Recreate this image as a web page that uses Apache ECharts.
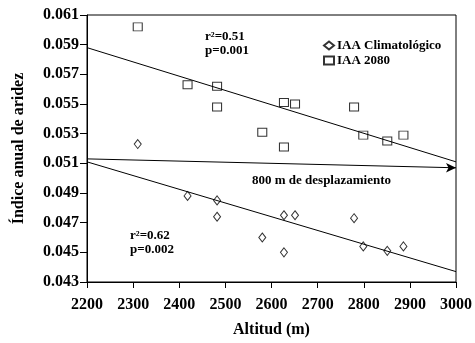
<!DOCTYPE html>
<html><head><meta charset="utf-8">
<script src="https://cdn.jsdelivr.net/npm/echarts@6/dist/echarts.min.js"></script>
<style>html,body{margin:0;padding:0;background:#fff}#c{width:475px;height:343px}</style>
</head><body><div id="c"></div>
<script>
const altitudes = [2310, 2418, 2482, 2482, 2580, 2627, 2627, 2651, 2779, 2799, 2851, 2886];
const iaaClimatologico = [0.0523, 0.0488, 0.0485, 0.0474, 0.0460, 0.0450, 0.0475, 0.0475, 0.0473, 0.0454, 0.0451, 0.0454];
const iaa2080 = [0.0602, 0.0563, 0.0562, 0.0548, 0.0531, 0.0551, 0.0521, 0.0550, 0.0548, 0.0529, 0.0525, 0.0529];
const fitX = [2200, 3000];
const fit2080 = [0.0588, 0.0511];
const fitClim = [0.0511, 0.0437];
const shiftLine = [0.0513, 0.0507];
const yTicks = ['0.043','0.045','0.047','0.049','0.051','0.053','0.055','0.057','0.059','0.061'];
const xTicks = ['2200','2300','2400','2500','2600','2700','2800','2900','3000'];

const F = 'Liberation Serif';
const pairs = (xs, ys) => xs.map((x, i) => [x, ys[i]]);
const chart = echarts.init(document.getElementById('c'));
chart.setOption({
  animation: false,
  textStyle: {fontFamily: F},
  grid: {left: 87, right: 19, top: 15, bottom: 60, show: true, borderColor: '#000', borderWidth: 1},
  legend: {
    left: 318, top: 34, orient: 'vertical', itemGap: 2, itemWidth: 10, itemHeight: 8,
    data: ['IAA Climatológico', 'IAA 2080'],
    textStyle: {fontFamily: F, fontWeight: 'bold', fontSize: 13, color: '#000', padding: [0, 0, 0, -2]}
  },
  xAxis: {
    type: 'value', min: 2200, max: 3000, interval: 100,
    name: 'Altitud (m)', nameLocation: 'middle', nameGap: 40,
    nameTextStyle: {fontFamily: F, fontWeight: 'bold', fontSize: 16, color: '#000'},
    axisLine: {lineStyle: {color: '#000'}},
    axisTick: {show: true, length: 6, lineStyle: {color: '#000'}},
    axisLabel: {fontFamily: F, fontWeight: 'bold', fontSize: 16, color: '#000', margin: 15,
      formatter: v => xTicks.find(t => parseFloat(t) === v) || String(v)},
    splitLine: {show: false}
  },
  yAxis: {
    type: 'value', min: 0.043, max: 0.061, interval: 0.002,
    name: 'Índice anual de aridez', nameLocation: 'middle', nameGap: 60,
    nameTextStyle: {fontFamily: F, fontWeight: 'bold', fontSize: 16, color: '#000'},
    axisLine: {show: true, lineStyle: {color: '#000'}},
    axisTick: {show: true, length: 7, lineStyle: {color: '#000'}},
    axisLabel: {fontFamily: F, fontWeight: 'bold', fontSize: 16, color: '#000', margin: 8,
      formatter: v => yTicks.find(t => Math.abs(parseFloat(t) - v) < 1e-6) || v.toFixed(3)},
    splitLine: {show: false}
  },
  series: [
    {name: 'IAA Climatológico', type: 'scatter', symbol: 'diamond', symbolSize: [7, 9],
      itemStyle: {color: '#fff', borderColor: '#000', borderWidth: 1},
      data: pairs(altitudes, iaaClimatologico)},
    {name: 'IAA 2080', type: 'scatter', symbol: 'rect', symbolSize: [9, 8],
      itemStyle: {color: '#fff', borderColor: '#000', borderWidth: 1},
      data: pairs(altitudes, iaa2080)},
    {type: 'line', symbol: 'none', silent: true, lineStyle: {color: '#000', width: 1},
      data: pairs(fitX, fit2080)},
    {type: 'line', symbol: 'none', silent: true, lineStyle: {color: '#000', width: 1},
      data: pairs(fitX, fitClim)},
    {type: 'line', showSymbol: true, silent: true,
      lineStyle: {color: '#000', width: 1}, itemStyle: {color: '#000'},
      data: [{value: [fitX[0], shiftLine[0]], symbol: 'none'}, {value: [fitX[1], shiftLine[1]], symbol: 'arrow', symbolRotate: -90, symbolSize: [7, 10]}]}
  ],
  graphic: [
    {type: 'text', left: 205, top: 30, style: {text: 'r²=0.51\np=0.001', fontFamily: F, fontWeight: 'bold', fontSize: 13, lineHeight: 14, fill: '#000'}},
    {type: 'text', left: 130, top: 229, style: {text: 'r²=0.62\np=0.002', fontFamily: F, fontWeight: 'bold', fontSize: 13, lineHeight: 14, fill: '#000'}},
    {type: 'text', left: 252, top: 174, style: {text: '800 m de desplazamiento', fontFamily: F, fontWeight: 'bold', fontSize: 13, fill: '#000'}}
  ]
});
</script></body></html>
